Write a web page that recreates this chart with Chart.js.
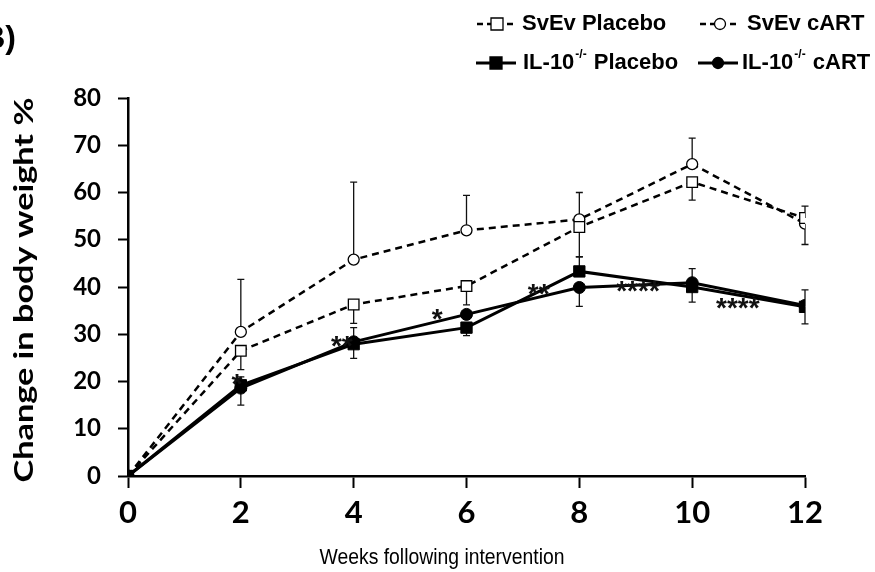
<!DOCTYPE html>
<html>
<head>
<meta charset="utf-8">
<script src="https://cdn.jsdelivr.net/npm/chart.js@4/dist/chart.umd.min.js"></script>
<style>
  html, body { margin: 0; padding: 0; background: #fff; }
  #wrap { width: 875px; height: 572px; position: relative; }
</style>
</head>
<body>
<div id="wrap"><canvas id="chart" width="875" height="572"></canvas></div>
<script>
// weeks after intervention
const weeks = [0, 2, 4, 6, 8, 10, 12];

// mean % change in body weight
const svevPlacebo = [0, 26.5, 36.3, 40.2, 52.7, 62.2, 54.6];
const svevCart = [0, 30.5, 45.8, 52.0, 54.3, 66.0, 53.4];
const ilPlacebo = [0, 19.2, 27.9, 31.4, 43.3, 40.0, 35.8];
const ilCart = [0, 18.6, 28.4, 34.2, 39.9, 40.9, 36.1];

// error bars (only the drawn side)
const svevPlaceboUp = [0, 0, 0, 0, 0, 0, 2.5];
const svevPlaceboDown = [0, 4, 4, 4, 6.3, 3.8, 0];
const svevCartUp = [0, 11.1, 16.4, 7.4, 5.7, 5.5, 0];
const svevCartDown = [0, 0, 0, 0, 0, 0, 4.4];
const ilPlaceboUp = [0, 0, 0, 0, 3.1, 0, 3.6];
const ilPlaceboDown = [0, 4.2, 3.0, 1.7, 0, 3.2, 3.6];
const ilCartUp = [0, 2.4, 3.0, 0, 0, 3.0, 0];
const ilCartDown = [0, 0, 0, 0, 4.0, 0, 0];

// significance marks: week, value, text
const starWeeks = [1.93, 3.79, 5.48, 7.28, 9.04, 10.81];
const starValues = [20.7, 28.8, 34.5, 39.8, 40.4, 36.8];
const starTexts = ["*", "**", "*", "**", "****", "****"];

const yTicks = [0, 10, 20, 30, 40, 50, 60, 70, 80];

const toPoints = (values) => values.map((v, i) => ({ x: weeks[i], y: v }));

const errors = [
  { up: svevPlaceboUp, down: svevPlaceboDown },
  { up: svevCartUp, down: svevCartDown },
  { up: ilPlaceboUp, down: ilPlaceboDown },
  { up: ilCartUp, down: ilCartDown },
];

const errorBars = {
  id: "errorBars",
  beforeDatasetsDraw(chart) {
    const { ctx, scales } = chart;
    ctx.save();
    ctx.strokeStyle = "#111";
    ctx.lineWidth = 1.3;
    chart.data.datasets.forEach((ds, di) => {
      const err = errors[di];
      ds.data.forEach((p, i) => {
        const x = scales.x.getPixelForValue(p.x);
        const y0 = scales.y.getPixelForValue(p.y);
        [[err.up[i], 1], [err.down[i], -1]].forEach(([e, sign]) => {
          if (!e) return;
          const y1 = scales.y.getPixelForValue(p.y + sign * e);
          ctx.beginPath();
          ctx.moveTo(x, y0);
          ctx.lineTo(x, y1);
          ctx.moveTo(x - 3.5, y1);
          ctx.lineTo(x + 3.5, y1);
          ctx.stroke();
        });
      });
    });
    ctx.restore();
  },
  afterDatasetsDraw(chart) {
    const { ctx, scales } = chart;
    ctx.save();
    ctx.fillStyle = "#111";
    ctx.font = "bold 28px 'Liberation Sans', Arial, sans-serif";
    ctx.textAlign = "center";
    ctx.textBaseline = "middle";
    starTexts.forEach((t, i) => {
      const x = scales.x.getPixelForValue(starWeeks[i]);
      const y = scales.y.getPixelForValue(starValues[i]);
      ctx.fillText(t, x, y + 7);
    });
    ctx.restore();
  },
};

function legendMarker(ctx, x, y, dashed, shape, filled) {
  ctx.save();
  ctx.strokeStyle = "#000";
  ctx.lineWidth = dashed ? 2.5 : 3;
  if (dashed) ctx.setLineDash([6, 4]);
  ctx.beginPath();
  ctx.moveTo(x, y);
  ctx.lineTo(x + 40, y);
  ctx.stroke();
  ctx.setLineDash([]);
  ctx.lineWidth = 1.3;
  ctx.fillStyle = filled ? "#000" : "#fff";
  const cx = x + 20;
  ctx.beginPath();
  if (shape === "rect") ctx.rect(cx - 6, y - 6, 12, 12);
  else ctx.arc(cx, y, 5.5, 0, Math.PI * 2);
  ctx.fill();
  ctx.stroke();
  ctx.restore();
}

// draw text squeezed or stretched to a given length
function fitText(ctx, text, x, y, length) {
  const w = ctx.measureText(text).width;
  ctx.save();
  ctx.translate(x, y);
  ctx.scale(length / w, 1);
  ctx.fillText(text, 0, 0);
  ctx.restore();
}

const decorations = {
  id: "decorations",
  afterDraw(chart) {
    const { ctx } = chart;
    ctx.save();
    ctx.fillStyle = "#000";

    // panel letter, cut at the left edge
    ctx.font = "bold 32px 'Liberation Sans', Arial, sans-serif";
    ctx.textAlign = "right";
    ctx.textBaseline = "middle";
    ctx.fillText("B)", 16, 39);

    // y title
    ctx.save();
    ctx.translate(24, 290);
    ctx.rotate(-Math.PI / 2);
    ctx.textAlign = "center";
    ctx.font = "bold 27px Lato, 'Open Sans', sans-serif";
    fitText(ctx, "Change in body weight %", 0, 0, 385);
    ctx.restore();

    // x title
    ctx.textAlign = "center";
    ctx.font = "22px 'Liberation Sans', Arial, sans-serif";
    fitText(ctx, "Weeks following intervention", 442, 558, 245);

    // legend
    legendMarker(ctx, 477, 24, true, "rect", false);
    legendMarker(ctx, 700, 24, true, "circle", false);
    legendMarker(ctx, 476, 63, false, "rect", true);
    legendMarker(ctx, 698, 63, false, "circle", true);

    ctx.textAlign = "left";
    ctx.font = "bold 22px 'Liberation Sans', Arial, sans-serif";
    ctx.fillText("SvEv Placebo", 522, 24);
    ctx.fillText("SvEv cART", 747, 24);

    const ilLabel = (x, tail) => {
      ctx.font = "bold 22px 'Liberation Sans', Arial, sans-serif";
      ctx.fillText("IL-10", x, 63);
      let w = ctx.measureText("IL-10").width;
      ctx.font = "bold 12px 'Liberation Sans', Arial, sans-serif";
      ctx.fillText("-/-", x + w + 1, 55);
      w += ctx.measureText("-/-").width + 2;
      ctx.font = "bold 22px 'Liberation Sans', Arial, sans-serif";
      ctx.fillText(tail, x + w, 63);
    };
    ilLabel(523, " Placebo");
    ilLabel(742, " cART");

    ctx.restore();
  },
};

new Chart(document.getElementById("chart"), {
  type: "line",
  data: {
    datasets: [
      {
        label: "SvEv Placebo",
        data: toPoints(svevPlacebo),
        borderColor: "#000",
        borderWidth: 2.5,
        borderDash: [7, 5],
        pointStyle: "rect",
        pointRadius: 7.5,
        pointBackgroundColor: "#fff",
        pointBorderColor: "#000",
        pointBorderWidth: 1.3,
        order: 2,
      },
      {
        label: "SvEv cART",
        data: toPoints(svevCart),
        borderColor: "#000",
        borderWidth: 2.5,
        borderDash: [7, 5],
        pointStyle: "circle",
        pointRadius: 5.5,
        pointBackgroundColor: "#fff",
        pointBorderColor: "#000",
        pointBorderWidth: 1.3,
        order: 3,
      },
      {
        label: "IL-10-/- Placebo",
        data: toPoints(ilPlacebo),
        borderColor: "#000",
        borderWidth: 3,
        pointStyle: "rect",
        pointRadius: 8,
        pointBackgroundColor: "#000",
        pointBorderColor: "#000",
        pointBorderWidth: 1,
        order: 0,
      },
      {
        label: "IL-10-/- cART",
        data: toPoints(ilCart),
        borderColor: "#000",
        borderWidth: 3,
        pointStyle: "circle",
        pointRadius: 6,
        pointBackgroundColor: "#000",
        pointBorderColor: "#000",
        pointBorderWidth: 1,
        order: 1,
      },
    ],
  },
  options: {
    responsive: false,
    animation: false,
    layout: { padding: { left: 0, top: 98, right: 70, bottom: 0 } },
    plugins: { legend: { display: false }, tooltip: { enabled: false } },
    scales: {
      x: {
        type: "linear",
        min: 0,
        max: 12,
        afterFit: (s) => { s.height = 96; },
        afterBuildTicks: (s) => { s.ticks = weeks.map((v) => ({ value: v })); },
        grid: { drawOnChartArea: false, drawTicks: true, tickLength: 12, tickWidth: 2, tickColor: "#000" },
        border: { display: true, color: "#000", width: 2.5 },
        ticks: { color: "#000", padding: 6, font: { family: "Lato, 'Open Sans', sans-serif", weight: "bold", size: 31 } },
      },
      y: {
        min: 0,
        max: 80,
        afterFit: (s) => { s.width = 128; },
        afterBuildTicks: (s) => { s.ticks = yTicks.map((v) => ({ value: v })); },
        grid: { drawOnChartArea: false, drawTicks: true, tickLength: 10, tickWidth: 2, tickColor: "#000" },
        border: { display: true, color: "#000", width: 2.5 },
        ticks: { color: "#000", padding: 17, font: { family: "Lato, 'Open Sans', sans-serif", weight: "bold", size: 24 } },
      },
    },
  },
  plugins: [errorBars, decorations],
});
</script>
</body>
</html>
